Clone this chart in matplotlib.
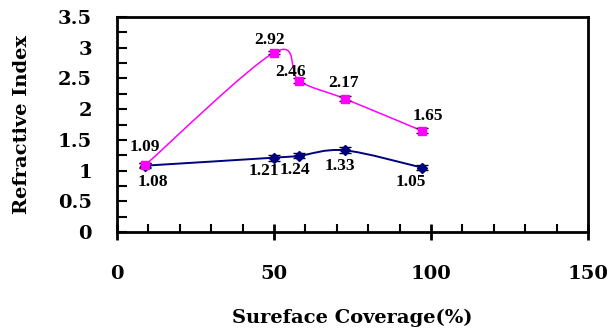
import numpy as np
import matplotlib
matplotlib.use('Agg')
import matplotlib.pyplot as plt
from matplotlib.path import Path
import matplotlib.patches as patches

plt.rcParams['font.family'] = ['DejaVu Serif']
plt.rcParams['font.weight'] = 'bold'

# data
coverage = [9, 50, 58, 72.5, 97]
ri_pink = [1.09, 2.92, 2.46, 2.17, 1.65]
ri_blue = [1.08, 1.21, 1.24, 1.33, 1.05]
err_pink = [0.03, 0.03, 0.04, 0.04, 0.04]
err_blue = [0.04, 0.05, 0.04, 0.05, 0.04]

# label offsets in pixels (dx, dy)
off_pink = [(0, 18), (-4, 13), (-9, 9), (-1, 16), (6, 15)]
off_blue = [(8, -16), (-10, -13), (-4, -14), (-5, -16), (-11, -15)]


def smooth_path(x, y):
    # Excel-like smoothed line: cubic bezier through the points
    pts = np.column_stack([x, y]).astype(float)
    n = len(pts)
    verts = [pts[0]]
    codes = [Path.MOVETO]
    for i in range(n - 1):
        p0 = pts[i - 1] if i > 0 else pts[i]
        p1 = pts[i]
        p2 = pts[i + 1]
        p3 = pts[i + 2] if i + 2 < n else pts[i + 1]
        c1 = p1 + (p2 - p0) / 6.0
        c2 = p2 - (p3 - p1) / 6.0
        verts += [c1, c2, p2]
        codes += [Path.CURVE4] * 3
    return Path(verts, codes)


fig = plt.figure(figsize=(6.11, 3.32), dpi=100)
ax = fig.add_axes([117 / 611, 1 - 232 / 332, (588 - 117) / 611, (232 - 17) / 332])

for xs, ys, es, col, mk, ms, lw in [(coverage, ri_blue, err_blue, '#000080', 'D', 5.5, 1.4),
                                    (coverage, ri_pink, err_pink, '#FF00FF', 's', 6, 1.1)]:
    ax.add_patch(patches.PathPatch(smooth_path(xs, ys), facecolor='none',
                                   edgecolor=col, lw=lw, zorder=2))
    ax.errorbar(xs, ys, yerr=es, fmt='none', ecolor='black', elinewidth=1,
                capsize=4, capthick=1, zorder=3)
    ax.plot(xs, ys, linestyle='none', marker=mk, markersize=ms, color=col,
            zorder=4)

for xs, ys, offs in [(coverage, ri_pink, off_pink), (coverage, ri_blue, off_blue)]:
    for x, y, (dx, dy) in zip(xs, ys, offs):
        ax.annotate('%.2f' % y, xy=(x, y), xytext=(dx * 0.72, dy * 0.72),
                    textcoords='offset points', ha='center', va='center',
                    fontsize=12.5, fontweight='bold', family='Liberation Serif')

ax.set_xlim(0, 150)
ax.set_ylim(0, 3.5)
ax.set_xticks([0, 50, 100, 150])
ax.set_xticks(np.arange(0, 151, 10), minor=True)
ax.set_yticks(np.arange(0, 3.51, 0.5))
ax.set_yticks(np.arange(0, 3.51, 0.25), minor=True)
ax.set_yticklabels(['0', '0.5', '1', '1.5', '2', '2.5', '3', '3.5'])

ax.tick_params(axis='x', which='major', direction='inout', length=12, width=2,
               labelsize=14, pad=18)
ax.tick_params(axis='x', which='minor', direction='in', length=6, width=1.5)
ax.tick_params(axis='y', which='both', direction='in', length=7, width=1.5,
               labelsize=14, pad=18)
for sp in ax.spines.values():
    sp.set_linewidth(2)

ax.set_xlabel('Sureface Coverage(%)', fontsize=14, fontweight='bold', labelpad=18)
ax.set_ylabel('Refractive Index', fontsize=14, fontweight='bold', labelpad=19)

fig.savefig('out.png', dpi=100)
